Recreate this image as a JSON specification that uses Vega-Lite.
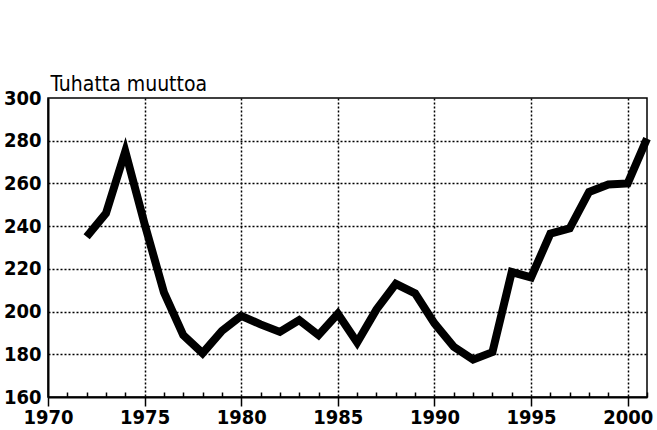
{
  "$schema": "https://vega.github.io/schema/vega-lite/v6.json",
  "width": 599,
  "height": 299,
  "autosize": {"type": "none"},
  "padding": {"left": 48, "top": 98, "right": 10, "bottom": 33},
  "background": "white",
  "config": {
    "view": {"stroke": "black", "strokeWidth": 1.5},
    "font": "DejaVu Sans Condensed"
  },
  "data": {
    "values": [
      {"year": 1972, "value": 235},
      {"year": 1973, "value": 246},
      {"year": 1974, "value": 275},
      {"year": 1975, "value": 241},
      {"year": 1976, "value": 209},
      {"year": 1977, "value": 189},
      {"year": 1978, "value": 180.5},
      {"year": 1979, "value": 191},
      {"year": 1980, "value": 198},
      {"year": 1981, "value": 194},
      {"year": 1982, "value": 190.5},
      {"year": 1983, "value": 196},
      {"year": 1984, "value": 189},
      {"year": 1985, "value": 199},
      {"year": 1986, "value": 185.5},
      {"year": 1987, "value": 201},
      {"year": 1988, "value": 213},
      {"year": 1989, "value": 208.5},
      {"year": 1990, "value": 194.5},
      {"year": 1991, "value": 183.5},
      {"year": 1992, "value": 177.5},
      {"year": 1993, "value": 181},
      {"year": 1994, "value": 218.5},
      {"year": 1995, "value": 216},
      {"year": 1996, "value": 236.5},
      {"year": 1997, "value": 239},
      {"year": 1998, "value": 256},
      {"year": 1999, "value": 259.5},
      {"year": 2000, "value": 260},
      {"year": 2001, "value": 281}
    ]
  },
  "mark": {"type": "line", "color": "black", "strokeWidth": 8, "strokeJoin": "miter", "strokeCap": "butt"},
  "encoding": {
    "x": {
      "field": "year", "type": "quantitative",
      "scale": {"domain": [1970, 2001], "nice": false, "zero": false},
      "axis": {
        "orient": "bottom",
        "values": [1970,1971,1972,1973,1974,1975,1976,1977,1978,1979,1980,1981,1982,1983,1984,1985,1986,1987,1988,1989,1990,1991,1992,1993,1994,1995,1996,1997,1998,1999,2000,2001],
        "labelExpr": "datum.value % 5 === 0 ? datum.value : ''",
        "title": null,
        "domain": true, "domainColor": "black", "domainWidth": 2,
        "ticks": true, "tickColor": "black", "tickWidth": 1.5,
        "tickSize": {"condition": {"test": "datum.value % 5 === 0", "value": 9}, "value": -5},
        "grid": true, "gridColor": "black", "gridDash": [2, 2], "gridWidth": 1.5,
        "gridOpacity": {"condition": {"test": "datum.value % 5 === 0 && datum.value > 1970", "value": 1}, "value": 0},
        "labelFont": "DejaVu Sans Condensed", "labelFontSize": 20, "labelFontWeight": "bold",
        "labelColor": "black", "labelPadding": 1, "labelFlush": false, "labelOverlap": false,
        "labelBound": false
      }
    },
    "y": {
      "field": "value", "type": "quantitative",
      "scale": {"domain": [160, 300], "nice": false, "zero": false},
      "axis": {
        "values": [160, 180, 200, 220, 240, 260, 280, 300],
        "title": "Tuhatta muuttoa",
        "titleAngle": 0, "titleAlign": "left", "titleBaseline": "alphabetic",
        "titleX": 2, "titleY": -8,
        "titleFont": "DejaVu Sans Condensed", "titleFontSize": 21, "titleFontWeight": "normal", "titleColor": "black",
        "domain": true, "domainColor": "black", "domainWidth": 2,
        "ticks": false, "labelPadding": 7,
        "grid": true, "gridColor": "black", "gridDash": [2, 2], "gridWidth": 1.5,
        "gridOpacity": {"condition": {"test": "datum.value > 160 && datum.value < 300", "value": 1}, "value": 0},
        "labelFont": "DejaVu Sans Condensed", "labelFontSize": 20, "labelFontWeight": "bold",
        "labelColor": "black"
      }
    }
  }
}
